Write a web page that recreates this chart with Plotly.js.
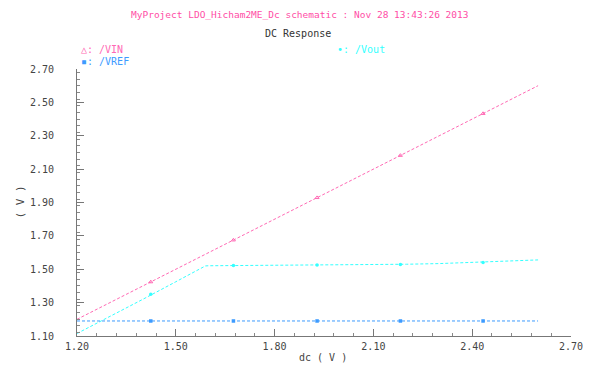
<!DOCTYPE html>
<html>
<head>
<meta charset="utf-8">
<script src="https://cdn.plot.ly/plotly-3.0.1.min.js"></script>
<style>html,body{margin:0;padding:0;background:#fff;}#chart{width:605px;height:367px;}</style>
</head>
<body>
<div id="chart"></div>
<script>
// sweep values (dc, V)
const dcSweep = [1.2, 1.3, 1.4, 1.5, 1.55, 1.59, 1.6, 1.7, 1.8, 1.9, 2.0, 2.1, 2.2, 2.3, 2.4, 2.5, 2.6];
const vinValues = [1.2, 1.3, 1.4, 1.5, 1.55, 1.59, 1.6, 1.7, 1.8, 1.9, 2.0, 2.1, 2.2, 2.3, 2.4, 2.5, 2.6];
const voutValues = [1.115, 1.215, 1.32, 1.425, 1.475, 1.52, 1.521, 1.522, 1.523, 1.525, 1.526, 1.528, 1.530, 1.534, 1.540, 1.547, 1.556];
const vrefValues = [1.19, 1.19, 1.19, 1.19, 1.19, 1.19, 1.19, 1.19, 1.19, 1.19, 1.19, 1.19, 1.19, 1.19, 1.19, 1.19, 1.19];
// marker positions
const markerDc = [1.424, 1.675, 1.929, 2.182, 2.433];
const vinMarkers = [1.424, 1.675, 1.929, 2.182, 2.433];
const voutMarkers = [1.35, 1.522, 1.525, 1.529, 1.541];
const vrefMarkers = [1.19, 1.19, 1.19, 1.19, 1.19];

const cVin = '#ff69b4', cVout = '#33ffff', cVref = '#3d9bff';
const fnt = 'DejaVu Sans Mono, monospace';

function lineTrace(y, c) {
  return {x: dcSweep, y: y, mode: 'lines', line: {color: c, width: 1, dash: '3px,2px'}, hoverinfo: 'skip'};
}
function markTrace(y, c, sym) {
  return {x: markerDc, y: y, mode: 'markers', marker: {color: c, size: 3.5, symbol: sym, line: {width: 0}}, hoverinfo: 'skip'};
}
const data = [
  lineTrace(vinValues, cVin), lineTrace(voutValues, cVout), lineTrace(vrefValues, cVref),
  markTrace(vinMarkers, cVin, 'triangle-up-open'), markTrace(voutMarkers, cVout, 'circle'), markTrace(vrefMarkers, cVref, 'square')
];

const axCommon = {
  showgrid: false, zeroline: false, showline: true, linecolor: '#777', linewidth: 1,
  ticks: 'inside', ticklen: 7, tickcolor: '#777', tickwidth: 1,
  tickfont: {family: fnt, size: 10, color: '#444'}
};
const layout = {
  width: 605, height: 367,
  margin: {l: 77, r: 34, t: 69, b: 31},
  paper_bgcolor: '#fff', plot_bgcolor: '#fff',
  showlegend: false,
  xaxis: Object.assign({}, axCommon, {range: [1.2, 2.7], tick0: 1.2, dtick: 0.3, tickformat: '.2f',
    minor: {dtick: 0.06, ticks: 'inside', ticklen: 3, tickcolor: '#888'}, ticklabelstandoff: 1}),
  yaxis: Object.assign({}, axCommon, {range: [1.1, 2.7], tick0: 1.1, dtick: 0.2, tickformat: '.2f',
    minor: {dtick: 0.04, ticks: 'inside', ticklen: 3, tickcolor: '#888'}, ticklabelstandoff: 20}),
  annotations: [
    {text: 'MyProject LDO_Hicham2ME_Dc schematic : Nov 28 13:43:26 2013', xref: 'paper', yref: 'paper', x: 0.451, y: 1, yshift: 55, showarrow: false, xanchor: 'center', yanchor: 'middle', font: {family: fnt, size: 9.5, color: '#ff4da6'}},
    {text: 'DC Response', xref: 'paper', yref: 'paper', x: 0.447, y: 1, yshift: 36, showarrow: false, xanchor: 'center', yanchor: 'middle', font: {family: fnt, size: 10, color: '#333'}},
    {text: '△: /VIN', xref: 'paper', yref: 'paper', x: 0, xshift: 2, y: 1, yshift: 20, showarrow: false, xanchor: 'left', yanchor: 'middle', font: {family: fnt, size: 10, color: cVin}},
    {text: '▪: /VREF', xref: 'paper', yref: 'paper', x: 0, xshift: 2, y: 1, yshift: 8, showarrow: false, xanchor: 'left', yanchor: 'middle', font: {family: fnt, size: 10, color: cVref}},
    {text: '•: /Vout', xref: 'paper', yref: 'paper', x: 0, xshift: 258, y: 1, yshift: 20, showarrow: false, xanchor: 'left', yanchor: 'middle', font: {family: fnt, size: 10, color: cVout}},
    {text: '( V )', xref: 'paper', yref: 'paper', x: 0, xshift: -57, y: 0.5, showarrow: false, textangle: -90, xanchor: 'center', yanchor: 'middle', font: {family: fnt, size: 11, color: '#444'}},
    {text: 'dc ( V )', xref: 'paper', yref: 'paper', x: 0.498, y: 0, yshift: -21, showarrow: false, xanchor: 'center', yanchor: 'middle', font: {family: fnt, size: 10, color: '#444'}}
  ]
};
Plotly.newPlot('chart', data, layout, {staticPlot: true, displayModeBar: false});
</script>
</body>
</html>
